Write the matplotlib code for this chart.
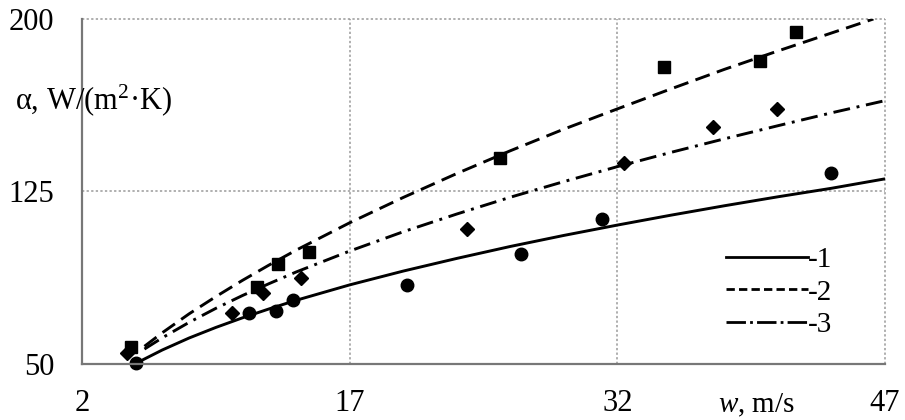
import matplotlib
matplotlib.use("Agg")
import matplotlib.pyplot as plt
from matplotlib.lines import Line2D

plt.rcParams['font.family'] = ['Liberation Serif', 'DejaVu Serif']
plt.rcParams['mathtext.fontset'] = 'custom'
plt.rcParams['mathtext.rm'] = 'Liberation Serif'
plt.rcParams['mathtext.it'] = 'Liberation Serif:italic'

# fitted curves (w, alpha)
w_1 = [5.2, 6.5, 8, 9.5, 11, 12.5, 14, 17, 20, 23, 26, 29, 32, 35, 38, 41, 44, 47]
a_1 = [51.0, 56.1, 61.3, 65.9, 70.1, 74.0, 77.7, 84.4, 90.4, 95.9, 101.1, 105.9, 110.4, 114.7, 118.8, 122.7, 126.4, 130.5]
w_2 = [5.5, 6.5, 8, 9.5, 11, 12.5, 14, 17, 20, 23, 26, 29, 32, 35, 38, 41, 44, 46.35]
a_2 = [57.7, 63.6, 71.8, 79.3, 86.4, 93.1, 99.5, 111.4, 122.4, 132.8, 142.7, 152.1, 160.9, 169.6, 178.1, 186.1, 193.9, 200.0]
w_3 = [5.5, 6.5, 8, 9.5, 11, 12.5, 14, 17, 20, 23, 26, 29, 32, 35, 38, 41, 44, 47]
a_3 = [56.5, 61.4, 68.1, 74.2, 79.8, 85.0, 90.0, 99.1, 107.5, 115.2, 122.5, 129.3, 135.8, 142.0, 147.9, 153.6, 159.2, 164.5]

# measured points
w_circ = [5.05, 11.35, 12.9, 13.8, 20.2, 26.6, 31.15, 43.95]
a_circ = [50.5, 72.3, 73.0, 77.8, 84.3, 98.0, 113.2, 133.0]
w_sq = [4.75, 11.8, 13.0, 14.7, 25.4, 34.6, 40.0, 42.0]
a_sq = [57.2, 83.3, 93.3, 98.7, 139.5, 179.3, 181.9, 194.2]
w_dia = [4.5, 10.4, 12.15, 14.3, 23.6, 32.35, 37.35, 40.95]
a_dia = [54.8, 72.3, 80.7, 87.2, 108.7, 137.3, 152.9, 160.9]

x_ticks = [2, 17, 32, 47]
y_ticks = [50, 125, 200]

fig = plt.figure(figsize=(9.05, 4.2), dpi=100)
ax = fig.add_axes([0.0906, 0.1333, 0.8873, 0.8215])

ax.plot(w_1, a_1, color='black', lw=2.1, solid_capstyle='butt')
ax.plot(w_2, a_2, color='black', lw=2.1, dashes=(5.2, 2.6))
ax.plot(w_3, a_3, color='black', lw=2.1, dashes=(5.8, 2.3, 1, 2.3))

ax.plot(w_sq, a_sq, 's', color='black', ms=8.5, clip_on=False)
ax.plot(w_dia, a_dia, 'D', color='black', ms=7.2, clip_on=False)
ax.plot(w_circ, a_circ, 'o', color='black', ms=9, clip_on=False)

ax.set_xlim(2, 47)
ax.set_ylim(50, 200)
ax.set_xticks(x_ticks)
ax.set_yticks(y_ticks)
ax.tick_params(length=0, labelsize=22, pad=20)
ax.tick_params(axis='x', pad=18)

ax.grid(True, color='#9a9a9a', lw=1.1, linestyle=(0, (1.5, 1.5)))
for gl in ax.get_xgridlines() + ax.get_ygridlines():
    gl.set_clip_on(False)
ax.set_axisbelow(True)

for s in ['top', 'right']:
    ax.spines[s].set_visible(False)
for s in ['left', 'bottom']:
    ax.spines[s].set_color('#777777')
    ax.spines[s].set_linewidth(1.6)

fig.text(15 / 905, 1 - 100 / 420, r'α, W/(m$^{2}$·K)', fontsize=22, ha='left', va='center')
fig.text(718 / 905, 1 - 405 / 420, r'$w$, m/s', fontsize=21, ha='left', va='center')

handles = [
    Line2D([], [], color='black', lw=2),
    Line2D([], [], color='black', lw=2, dashes=(3, 1.5)),
    Line2D([], [], color='black', lw=2, dashes=(7, 1.5, 1, 1.5)),
]
ax.legend(handles, ['-1', '-2', '-3'], loc='upper left',
          bbox_to_anchor=(726 / 905, 1 - 247 / 420), bbox_transform=fig.transFigure,
          frameon=False, fontsize=21, handlelength=2.8, handletextpad=0.0,
          labelspacing=0.2, borderpad=0, borderaxespad=0)

fig.savefig('out.png', dpi=100)
